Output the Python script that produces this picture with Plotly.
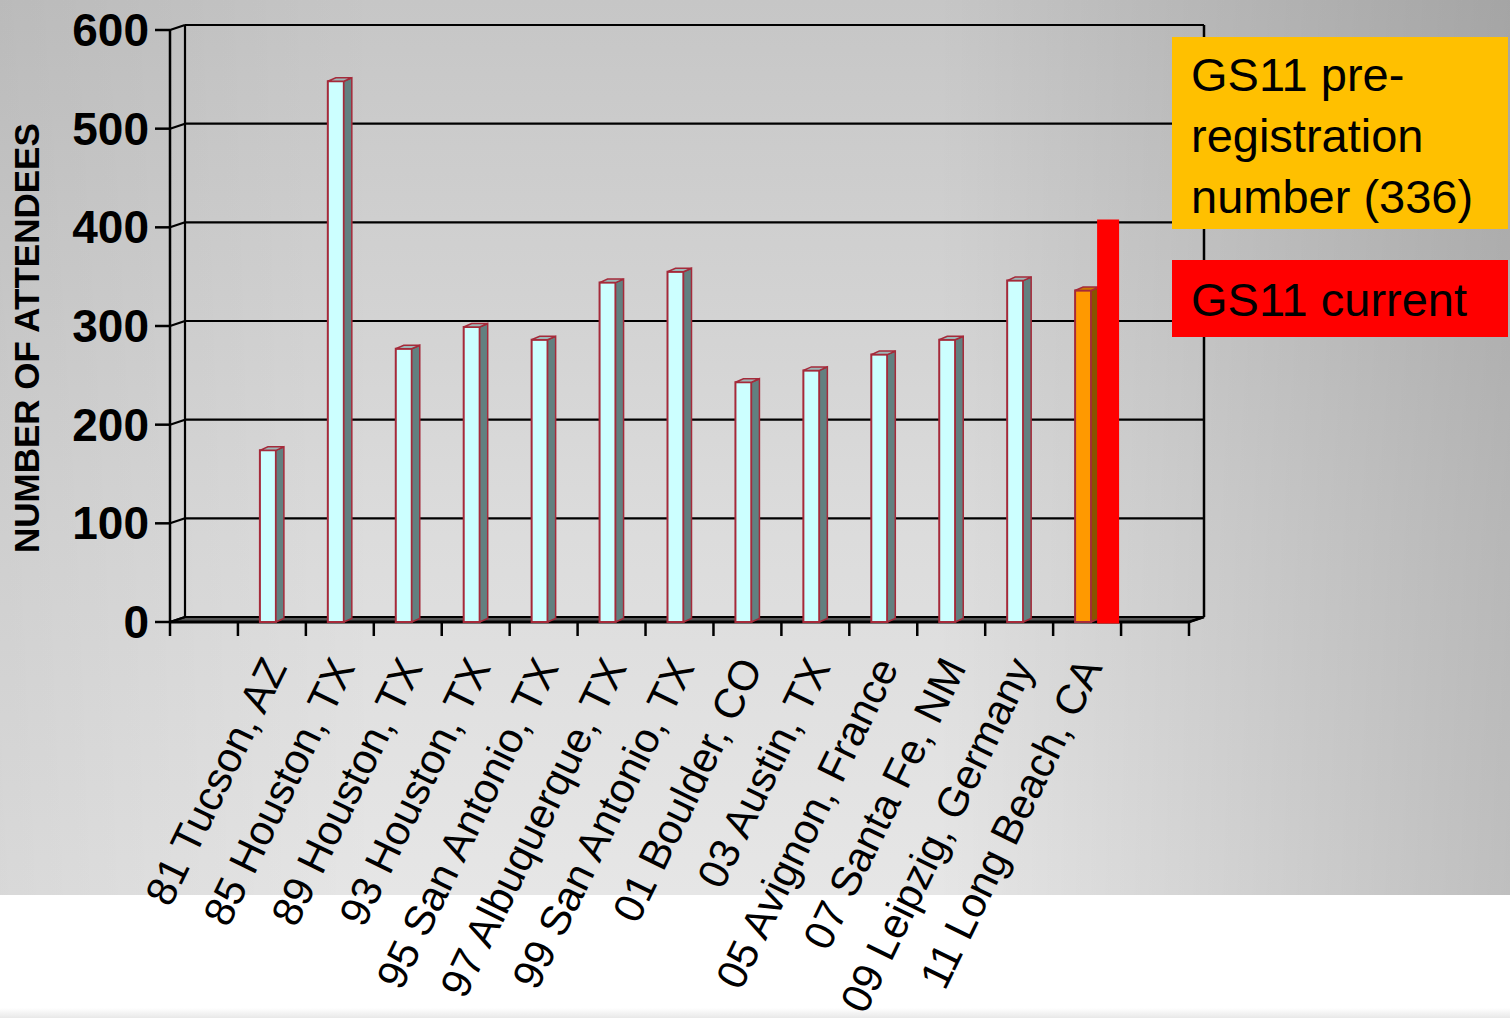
import plotly.graph_objects as go

# ---------------- data ----------------
categories = ["81 Tucson, AZ", "85 Houston, TX", "89 Houston, TX", "93 Houston, TX",
              "95 San Antonio, TX", "97 Albuquerque, TX", "99 San Antonio, TX",
              "01 Boulder, CO", "03 Austin, TX", "05 Avignon, France",
              "07 Santa Fe, NM", "09 Leipzig, Germany", "11 Long Beach, CA"]
attendees = [174, 548, 277, 299, 286, 344, 355, 243, 255, 271, 286, 346]
preregistration = 336
current = 408
y_ticks = [0, 100, 200, 300, 400, 500, 600]
legend_texts = ["GS11 pre-<br>registration<br>number (336)", "GS11 current"]
y_title = "NUMBER OF ATTENDEES"

# ---------------- layout geometry (pixels) ----------------
W, H = 1510, 1018
N_SLOTS = 15                      # slot 0 and 14 are empty
FRONT_L, FRONT_R = 170, 1189      # front edge of category axis
FRONT_B, FRONT_T = 622, 30        # front y of 0 and 600
DEPTH_X, DEPTH_Y = 15, 5          # 3-D depth of the wall
DOM_L, DOM_R, DOM_T, DOM_B = 150, 1212, 16, 640
BG_BOTTOM = 895
FONT = "Liberation Sans, Arial, sans-serif"

PXX = (FRONT_R - FRONT_L) / N_SLOTS
PXY = (FRONT_B - FRONT_T) / 600.0


def dx(p):
    return p / PXX


def dy(p):
    return p / PXY


x_range = [-0.5 - dx(FRONT_L - DOM_L), -0.5 + dx(DOM_R - FRONT_L)]
y_range = [-dy(DOM_B - FRONT_B), dy(FRONT_B - DOM_T)]
XL, XR = -0.5, N_SLOTS - 0.5
DXU, DYU = dx(DEPTH_X), dy(DEPTH_Y)
YMAX = y_ticks[-1]

slots = list(range(1, len(categories) + 1))
hist_slots = slots[:-1]
pre_slot = slots[-1]

CYAN, SIDE, TOP = "#CCFFFF", "#628080", "#9DB8B8"
ORANGE, ORANGE_SIDE, ORANGE_TOP = "#FF9900", "#8A5200", "#C87800"
EDGE = "#A52A3A"

fig = go.Figure()

# ---------------- background (subplot xy) ----------------
fig.add_trace(go.Scatter(
    x=[0, W, W, 0, 0], y=[0, 0, BG_BOTTOM, BG_BOTTOM, 0], mode="lines",
    line=dict(width=0), fill="toself", hoverinfo="skip", showlegend=False,
    fillgradient=dict(type="vertical", start=0, stop=BG_BOTTOM,
                      colorscale=[[0, "#c6c6c6"], [0.6, "#dcdcdc"], [1, "#e6e6e6"]]),
    xaxis="x", yaxis="y"))
fig.add_trace(go.Scatter(
    x=[0, W, W, 0, 0], y=[0, 0, BG_BOTTOM, BG_BOTTOM, 0], mode="lines",
    line=dict(width=0), fill="toself", hoverinfo="skip", showlegend=False,
    fillgradient=dict(type="horizontal", start=0, stop=W,
                      colorscale=[[0, "rgba(0,0,0,0.06)"], [0.25, "rgba(0,0,0,0)"],
                                  [0.62, "rgba(0,0,0,0)"], [1, "rgba(0,0,0,0.17)"]]),
    xaxis="x", yaxis="y"))
fig.add_trace(go.Scatter(
    x=[0, W, W, 0, 0], y=[1008, 1008, H, H, 1008], mode="lines",
    line=dict(width=0), fill="toself", hoverinfo="skip", showlegend=False,
    fillgradient=dict(type="vertical", start=1008, stop=H,
                      colorscale=[[0, "#ffffff"], [1, "#e8e8e8"]]),
    xaxis="x", yaxis="y"))

# ---------------- bars: front faces ----------------
fig.add_trace(go.Bar(
    x=hist_slots, y=attendees, width=dx(16), offset=dx(-12),
    marker=dict(color=CYAN, line=dict(color=EDGE, width=2)),
    showlegend=False, hoverinfo="skip", xaxis="x2", yaxis="y2"))
fig.add_trace(go.Bar(
    x=[pre_slot], y=[preregistration], width=dx(16), offset=dx(-12),
    marker=dict(color=ORANGE, line=dict(color=EDGE, width=2)),
    showlegend=False, hoverinfo="skip", xaxis="x2", yaxis="y2"))


def faces(xs, vals):
    sx, sy, tx, ty = [], [], [], []
    for c, v in zip(xs, vals):
        a, b, e = c + dx(4), c + dx(12), dy(3.5)
        sx += [a, a, b, b, a, None]
        sy += [0, v, v + e, e, 0, None]
        l = c + dx(-12)
        tx += [l, a, b, c + dx(-4), l, None]
        ty += [v, v, v + e, v + e, v, None]
    return sx, sy, tx, ty


for xs, vals, sc, tc in [(hist_slots, attendees, SIDE, TOP),
                         ([pre_slot], [preregistration], ORANGE_SIDE, ORANGE_TOP)]:
    sx, sy, tx, ty = faces(xs, vals)
    fig.add_trace(go.Scatter(x=sx, y=sy, mode="lines", fill="toself", fillcolor=sc,
                             line=dict(color=EDGE, width=1.5), hoverinfo="skip",
                             showlegend=False, xaxis="x2", yaxis="y2"))
    fig.add_trace(go.Scatter(x=tx, y=ty, mode="lines", fill="toself", fillcolor=tc,
                             line=dict(color=EDGE, width=1.5), hoverinfo="skip",
                             showlegend=False, xaxis="x2", yaxis="y2"))

# current (red) bar
rl, rr = pre_slot + dx(10), pre_slot + dx(32)
fig.add_trace(go.Scatter(x=[rl, rr, rr, rl, rl], y=[dy(-1.5), dy(-1.5), current, current, dy(-1.5)],
                         mode="lines", fill="toself", fillcolor="#FF0000",
                         line=dict(width=0), hoverinfo="skip", showlegend=False,
                         xaxis="x2", yaxis="y2"))

# ---------------- 3-D frame (shapes on data axes) ----------------
shapes = []


def seg(x0, y0, x1, y1, w=2.2, color="black"):
    shapes.append(dict(type="line", xref="x2", yref="y2", x0=x0, y0=y0, x1=x1, y1=y1,
                       line=dict(color=color, width=w), layer="below"))


# floor
shapes.append(dict(type="path", xref="x2", yref="y2", layer="below",
                   path=f"M{XL},0 L{XR},0 L{XR + DXU},{DYU} L{XL + DXU},{DYU} Z",
                   fillcolor="#555555", line=dict(color="black", width=2)))
for v in y_ticks:
    seg(XL + DXU, v + DYU, XR + DXU, v + DYU)          # back-wall gridline
    seg(XL, v, XL + DXU, v + DYU)                      # side connector
    seg(XL - dx(15), v, XL, v, w=2.5)                  # y tick mark
seg(XL + DXU, DYU, XL + DXU, YMAX + DYU)               # back-left vertical
seg(XR + DXU, DYU, XR + DXU, YMAX + DYU, w=2.5)        # back-right vertical
seg(XL, 0, XL, YMAX, w=2.5)                            # front y axis
seg(XL, 0, XR, 0, w=3)                                 # front x axis
seg(XR, 0, XR + DXU, DYU, w=2.5)
for i in range(N_SLOTS + 1):
    b = XL + i
    seg(b, 0, b, -dy(14), w=2.5)                       # x tick marks


def P(xp, yp):
    return xp / W, 1 - yp / H


# legend boxes
for (x0, y0, x1, y1, col) in [(1172, 37, 1508, 229, "#FFC000"), (1172, 260, 1508, 337, "#FF0000")]:
    a0, b0 = P(x0, y1)
    a1, b1 = P(x1, y0)
    shapes.append(dict(type="rect", xref="paper", yref="paper", x0=a0, y0=b0, x1=a1, y1=b1,
                       fillcolor=col, line=dict(width=0), layer="above"))

annotations = []
for txt, yc in zip(legend_texts, [135, 300]):
    ax_, ay_ = P(1189, yc)
    annotations.append(dict(text=txt, x=ax_, y=ay_, xref="paper", yref="paper",
                            xanchor="left", yanchor="middle", align="left", showarrow=False,
                            font=dict(family=FONT, size=47, color="black")))
tx_, ty_ = P(27, 338)
annotations.append(dict(text=y_title, x=tx_, y=ty_, xref="paper", yref="paper", textangle=-90,
                        xanchor="center", yanchor="middle", showarrow=False,
                        font=dict(family=FONT, size=35, color="black", weight="bold")))

fig.update_layout(
    width=W, height=H, autosize=False,
    margin=dict(l=0, r=0, t=0, b=0, pad=0),
    paper_bgcolor="white", plot_bgcolor="rgba(0,0,0,0)",
    barmode="overlay", showlegend=False,
    shapes=shapes, annotations=annotations,
    xaxis=dict(domain=[0, 1], range=[0, W], visible=False, fixedrange=True),
    yaxis=dict(domain=[0, 1], range=[H, 0], visible=False, fixedrange=True),
    xaxis2=dict(domain=[DOM_L / W, DOM_R / W], range=x_range, anchor="y2",
                tickmode="array", tickvals=[s + dx(-3) for s in slots], ticktext=categories,
                ticks="", showgrid=False, zeroline=False, showline=False,
                tickangle=-64, ticklabelstandoff=-4, automargin=False, fixedrange=True,
                tickfont=dict(family=FONT, size=42, color="black")),
    yaxis2=dict(domain=[1 - DOM_B / H, 1 - DOM_T / H], range=y_range, anchor="x2",
                tickmode="array", tickvals=y_ticks, ticks="", showgrid=False,
                zeroline=False, showline=False, automargin=False, fixedrange=True,
                ticklabelstandoff=0,
                tickfont=dict(family=FONT, size=46, color="black", weight="bold")),
)

fig.write_html("out.html", config={"displayModeBar": False},
               post_script="document.body.style.margin='0';document.body.style.overflow='hidden';")
